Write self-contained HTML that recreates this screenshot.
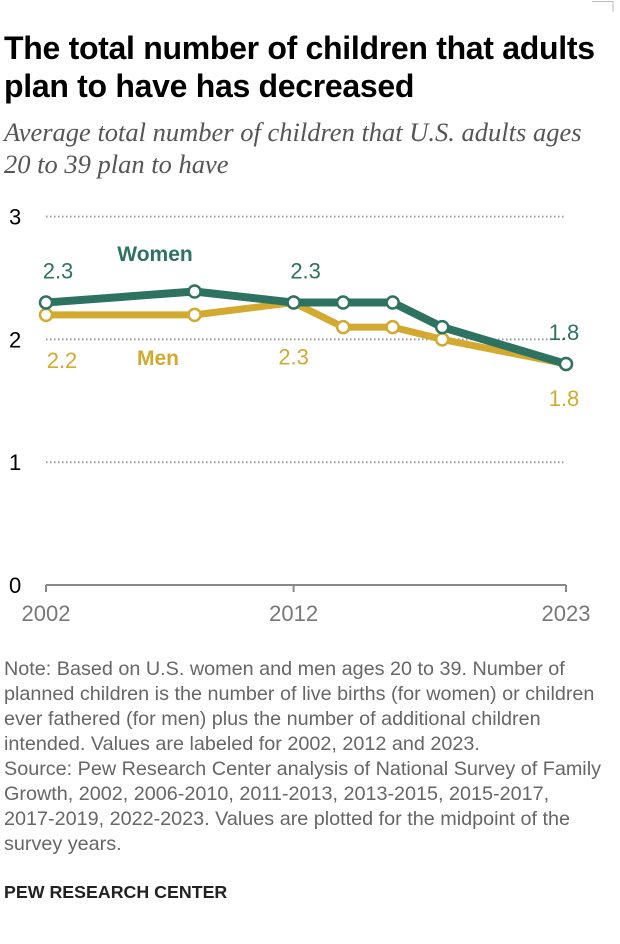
<!DOCTYPE html>
<html><head><meta charset="utf-8">
<style>
body{margin:0;width:620px;height:944px;background:#fff;position:relative;font-family:"Liberation Sans",sans-serif;overflow:hidden}
.t{position:absolute;left:4px;top:29px;font-size:32px;font-weight:bold;line-height:38px;color:#000;letter-spacing:-0.3px;white-space:nowrap}
.s{position:absolute;left:4px;top:116px;font-family:"Liberation Serif",serif;font-style:italic;font-size:26.5px;line-height:32px;color:#555;white-space:nowrap}
.n{position:absolute;left:4px;top:657px;font-size:19.8px;line-height:25px;color:#666;white-space:nowrap}
.f{position:absolute;left:4px;top:882px;font-size:17.8px;font-weight:bold;color:#222}
svg{position:absolute;left:0;top:0}
</style></head><body>
<div class="t">The total number of children that adults<br>plan to have has decreased</div>
<div class="s">Average total number of children that U.S. adults ages<br>20 to 39 plan to have</div>
<svg width="620" height="944" id="c">
<path d="M592 1.5H613V12" stroke="#bbb" fill="none"/>
</svg>
<div class="n">Note: Based on U.S. women and men ages 20 to 39. Number of<br>planned children is the number of live births (for women) or children<br>ever fathered (for men) plus the number of additional children<br>intended. Values are labeled for 2002, 2012 and 2023.<br>Source: Pew Research Center analysis of National Survey of Family<br>Growth, 2002, 2006-2010, 2011-2013, 2013-2015, 2015-2017,<br>2017-2019, 2022-2023. Values are plotted for the midpoint of the<br>survey years.</div>
<div class="f">PEW RESEARCH CENTER</div>
<script>
const years=[2002,2008,2012,2014,2016,2018,2023];
const women=[2.3,2.39,2.3,2.3,2.3,2.1,1.8];
const men=[2.2,2.2,2.3,2.1,2.1,2.0,1.8];
const yTicks=[0,1,2,3];
const xTicks=[2002,2012,2023];
const svg=document.getElementById('c');const NS='http://www.w3.org/2000/svg';
const x=v=>46+(v-2002)*(520/21);
const y=v=>585-v*122.8;
function mk(t,a){const e=document.createElementNS(NS,t);for(const k in a)e.setAttribute(k,a[k]);svg.appendChild(e);return e;}
yTicks.forEach(v=>{
 if(v>0){const g=mk('line',{x1:46,x2:565,y1:y(v),y2:y(v),stroke:'#999','stroke-width':2,'stroke-dasharray':'1.5 2.5'});
 
 }
 const t=mk('text',{x:9,y:y(v)+8,'font-size':22,fill:'#000'});t.textContent=v;
 
 
});
const ax=mk('line',{x1:46,x2:566,y1:585,y2:585,stroke:'#888','stroke-width':2});


xTicks.forEach(v=>{
 const l=mk('line',{x1:x(v),x2:x(v),y1:585,y2:592,stroke:'#888','stroke-width':2});
 
 
 const t=mk('text',{x:x(v),y:621,'font-size':22,fill:'#777','text-anchor':'middle'});t.textContent=v;
 
 
});
function series(d,col,w,name){
 const p=mk('polyline',{points:d.map((v,i)=>x(years[i])+','+y(v)).join(' '),fill:'none',stroke:col,'stroke-width':w,'stroke-linejoin':'round'});
 
 
 d.forEach((v,i)=>{const c=mk('circle',{cx:x(years[i]),cy:y(v),r:6,fill:'#fff',stroke:col,'stroke-width':2.5});
 
 });
}
const G='#2e7361',Y='#d3a92f';
series(men,Y,7,'men');
series(women,G,8,'women');
function lab(txt,xx,yy,col,name,bold){const t=mk('text',{x:xx,y:yy,'font-size':bold?21:22,fill:col,'font-weight':bold?'bold':'normal','text-anchor':'middle'});t.textContent=txt;
 
 }
const vi=[0,2,6];
const menOff=[53,0,62,0,0,0,42];
vi.forEach(i=>{
 lab(women[i].toFixed(1),x(years[i])+(i==6?-2:12),y(women[i])-24,G,'women-value-'+years[i]);
 lab(men[i].toFixed(1),x(years[i])+(i==0?16:(i==6?-2:0)),y(men[i])+menOff[i],Y,'men-value-'+years[i]);
});
lab('Women',155,261,G,'women-legend-label',true);
lab('Men',158,365,Y,'men-legend-label',true);
</script>
</body></html>
